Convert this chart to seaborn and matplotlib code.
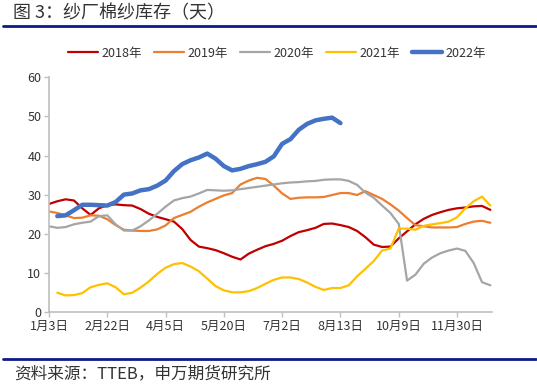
import numpy as np
import pandas as pd
import seaborn as sns
import matplotlib.pyplot as plt
from matplotlib.lines import Line2D

nan = np.nan

# weekly series, index 0..53 (category axis)
tick_labels = ['1月3日', '2月22日', '4月5日', '5月20日', '7月2日', '8月13日', '10月9日', '11月30日']
years = ['2018年', '2019年', '2020年', '2021年', '2022年']

y2018 = [27.6, 28.3, 28.8, 28.5, 26.5, 24.8, 26.5, 27.3, 27.5, 27.3, 27.2, 26.3, 25.1, 24.3, 23.7,
         23.1, 21.2, 18.4, 16.7, 16.3, 15.8, 15.0, 14.1, 13.4, 14.9, 15.9, 16.8, 17.4,
         18.2, 19.4, 20.4, 20.9, 21.5, 22.5, 22.6, 22.2, 21.7, 20.7, 19.1, 17.2, 16.6,
         16.7, 18.8, 20.6, 22.4, 23.8, 24.8, 25.5, 26.1, 26.5, 26.7, 27.0, 27.1, 26.1]
y2019 = [25.7, 25.3, 24.7, 24.0, 24.1, 24.7, 24.6, 23.7, 22.2, 21.0, 20.8, 20.7, 20.7, 21.1, 22.1,
         24.0, 24.8, 25.6, 26.9, 28.0, 28.9, 29.8, 30.4, 32.6, 33.6, 34.3, 34.0, 32.3,
         30.3, 28.9, 29.2, 29.3, 29.3, 29.4, 29.9, 30.4, 30.4, 29.9, 30.9, 29.9, 28.9,
         27.5, 25.9, 24.0, 22.2, 21.9, 21.6, 21.6, 21.6, 21.7, 22.5, 23.1, 23.3, 22.8]
y2020 = [21.9, 21.5, 21.7, 22.4, 22.8, 23.1, 24.5, 24.7, 22.4, 20.8, 20.8, 21.9, 23.4, 25.1, 26.9,
         28.5, 29.1, 29.5, 30.3, 31.2, 31.1, 31.0, 31.1, 31.4, 31.7, 32.0, 32.3, 32.6,
         32.9, 33.1, 33.2, 33.4, 33.5, 33.8, 33.9, 33.9, 33.5, 32.5, 30.5, 29.2, 27.2,
         25.3, 22.5, 8.0, 9.5, 12.3, 13.9, 15.0, 15.7, 16.2, 15.6, 12.5, 7.6, 6.8]
y2021 = [nan, 4.9, 4.2, 4.3, 4.8, 6.3, 6.9, 7.3, 6.3, 4.5, 4.9, 6.2, 7.8, 9.7, 11.3,
         12.2, 12.5, 11.6, 10.4, 8.5, 6.6, 5.5, 5.0, 5.0, 5.3, 6.1, 7.2, 8.2,
         8.8, 8.8, 8.4, 7.5, 6.4, 5.6, 6.1, 6.1, 6.8, 9.1, 11.0, 13.0, 15.7,
         16.2, 21.3, 21.3, 21.0, 22.0, 22.4, 22.7, 23.1, 24.2, 26.5, 28.3, 29.5, 27.2]
y2022 = [nan, 24.5, 24.7, 26.0, 27.4, 27.4, 27.3, 27.2, 28.1, 30.0, 30.3, 31.1, 31.4, 32.3, 33.6,
         36.0, 37.8, 38.8, 39.5, 40.5, 39.2, 37.3, 36.2, 36.6, 37.3, 37.8, 38.4, 39.8,
         43.0, 44.2, 46.6, 48.1, 49.0, 49.4, 49.7, 48.3] + [nan] * 18

colors = {'2018年': '#C00000', '2019年': '#ED7D31', '2020年': '#A5A5A5',
          '2021年': '#FFC000', '2022年': '#4472C4'}
widths = {'2018年': 1.6, '2019年': 1.6, '2020年': 1.6, '2021年': 1.6, '2022年': 3.2}

week = np.arange(54)
df = pd.concat([pd.DataFrame({'week': week, 'value': v, 'year': y})
                for y, v in zip(years, [y2018, y2019, y2020, y2021, y2022])])
df = df.dropna()

sns.set_style('white')
plt.rcParams['font.family'] = ['Noto Sans CJK SC', 'DejaVu Sans']

fig = plt.figure(figsize=(5.37, 3.85), dpi=100)
ax = fig.add_axes([0.0912, 0.190, 0.825, 0.609])

sns.lineplot(data=df, x='week', y='value', hue='year', size='year',
             palette=colors, sizes=widths, hue_order=years, size_order=years,
             estimator=None, ax=ax)

ax.set_xlim(0, 53.2)
ax.set_ylim(0, 60)
ax.set_yticks(range(0, 61, 10))
ax.set_xticks(np.arange(0, 50, 7))
ax.set_xticklabels(tick_labels)
ax.set_xlabel('')
ax.set_ylabel('')
for s in ['top', 'right']:
    ax.spines[s].set_visible(False)
for s in ['left', 'bottom']:
    ax.spines[s].set_color('#BFBFBF')
    ax.spines[s].set_linewidth(1.2)
ax.tick_params(axis='both', direction='out', length=3.5, width=1, color='#BFBFBF',
               labelsize=9, labelcolor='#333333', left=True, bottom=True, pad=2)

sns.move_legend(ax, 'center', bbox_to_anchor=(0.515, 1.104), ncol=5, frameon=False,
                title=None, fontsize=9, handlelength=2.4, handletextpad=0.3,
                columnspacing=0.95)
for t in ax.get_legend().get_texts():
    t.set_color('#333333')

fig.text(0.024, 0.966, '图 3：纱厂棉纱库存（天）', fontsize=13, color='#333333',
         va='center', ha='left')
fig.add_artist(Line2D([0.006, 0.998], [0.933, 0.933], color='#0E1A8A', lw=2))
fig.add_artist(Line2D([0.006, 0.998], [0.068, 0.068], color='#0E1A8A', lw=2))
fig.text(0.026, 0.029, '资料来源：TTEB，申万期货研究所', fontsize=12, color='#333333',
         va='center', ha='left')

fig.savefig('out.png', dpi=100)
